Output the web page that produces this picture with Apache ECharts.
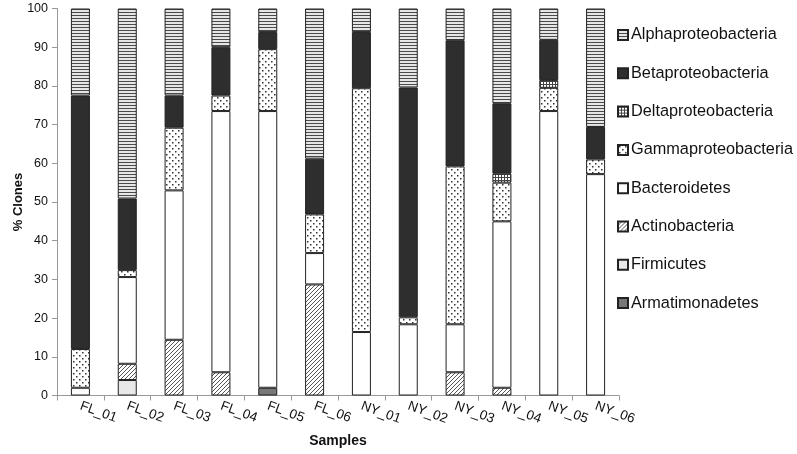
<!DOCTYPE html>
<html>
<head>
<meta charset="utf-8">
<script src="https://cdn.jsdelivr.net/npm/echarts@6/dist/echarts.min.js"></script>
<style>
  html, body { margin: 0; padding: 0; background: #fff; }
  #chart { width: 797px; height: 454px; }
</style>
</head>
<body>
<div id="chart"></div>
<script>
// samples along the x axis
var samples = ['FL_01', 'FL_02', 'FL_03', 'FL_04', 'FL_05', 'FL_06',
               'NY_01', 'NY_02', 'NY_03', 'NY_04', 'NY_05', 'NY_06'];

// % clones per group, stacked bottom -> top
var armatimonadetes = [0, 0, 0, 0, 2, 0, 0, 0, 0, 0, 0, 0];
var firmicutes      = [0, 4, 0, 0, 0, 0, 0, 0, 0, 0, 0, 0];
var actinobacteria  = [0, 4.2, 14.4, 6, 0, 28.7, 0, 0, 6, 2, 0, 0];
var bacteroidetes   = [2, 22.4, 38.6, 67.5, 71.5, 8.1, 16.4, 18.4, 12.4, 43, 73.5, 57.2];
var gammaproteo     = [10, 1.8, 16.2, 4, 16, 10, 63, 1.8, 40.8, 10, 6, 3.8];
var deltaproteo     = [0, 0, 0, 0, 0, 0, 0, 0, 0, 2.3, 2, 0];
var betaproteo      = [65.5, 18.5, 8.3, 12.5, 4.4, 14.4, 14.5, 59.4, 32.6, 18.2, 10.4, 8.4];
var alphaproteo     = [22.5, 49.1, 22.5, 10, 6.1, 38.8, 6.1, 20.4, 8.2, 24.5, 8.1, 30.6];

var yTicks = [0, 10, 20, 30, 40, 50, 60, 70, 80, 90, 100];

// little canvas tiles for the hatch fills
function tile(w, h, draw) {
  var c = document.createElement('canvas');
  c.width = w; c.height = h;
  var g = c.getContext('2d');
  g.fillStyle = '#fff';
  g.fillRect(0, 0, w, h);
  draw(g);
  return { image: c, repeat: 'repeat' };
}

var fillAlpha = tile(1, 3, function (g) {
  g.fillStyle = '#e6e6e6'; g.fillRect(0, 0, 1, 3);
  g.fillStyle = '#4a4a4a'; g.fillRect(0, 0, 1, 1);
});
var fillDelta = tile(3, 3, function (g) {
  g.fillStyle = '#444'; g.fillRect(0, 0, 3, 1); g.fillRect(0, 0, 1, 3);
});
var fillGamma = tile(6, 6, function (g) {
  g.fillStyle = '#333';
  g.fillRect(1, 1, 1.5, 1.5);
  g.fillRect(4, 4, 1.5, 1.5);
});
var fillActino = tile(4, 4, function (g) {
  g.fillStyle = '#555';
  g.fillRect(3, 0, 1, 1); g.fillRect(2, 1, 1, 1);
  g.fillRect(1, 2, 1, 1); g.fillRect(0, 3, 1, 1);
});

var groups = [
  { name: 'Armatimonadetes', data: armatimonadetes, color: '#777777' },
  { name: 'Firmicutes', data: firmicutes, color: '#e8e8e8' },
  { name: 'Actinobacteria', data: actinobacteria, color: fillActino },
  { name: 'Bacteroidetes', data: bacteroidetes, color: '#ffffff' },
  { name: 'Gammaproteobacteria', data: gammaproteo, color: fillGamma },
  { name: 'Deltaproteobacteria', data: deltaproteo, color: fillDelta },
  { name: 'Betaproteobacteria', data: betaproteo, color: '#2e2e2e' },
  { name: 'Alphaproteobacteria', data: alphaproteo, color: fillAlpha }
];

var series = groups.map(function (gr) {
  return {
    name: gr.name,
    type: 'bar',
    stack: 'all',
    barWidth: 19,
    // empty segments are left out so they draw no border line
    data: gr.data.map(function (v) { return v === 0 ? '-' : v; }),
    itemStyle: { color: gr.color, borderColor: '#222', borderWidth: 1 },
    emphasis: { disabled: true }
  };
});

var chart = echarts.init(document.getElementById('chart'), null, { renderer: 'canvas' });
chart.setOption({
  animation: false,
  textStyle: { fontFamily: 'Liberation Sans, Arial, sans-serif' },
  grid: { left: 57, top: 8.5, width: 562, height: 387, outerBoundsMode: 'none' },
  legend: {
    orient: 'vertical',
    left: 617,
    top: 27,
    padding: 0,
    icon: 'rect',
    itemWidth: 10,
    itemHeight: 10,
    itemGap: 22.3,
    data: groups.map(function (g) { return g.name; }).reverse(),
    textStyle: { fontSize: 16.3, color: '#111', padding: [0, 0, 0, -2] }
  },
  xAxis: {
    type: 'category',
    data: samples,
    name: 'Samples',
    nameLocation: 'middle',
    nameGap: 39,
    nameMoveOverlap: false,
    nameTextStyle: { fontSize: 14, fontWeight: 'bold', color: '#111' },
    axisLine: { lineStyle: { color: '#999' } },
    axisTick: { show: true, length: 5, lineStyle: { color: '#999' } },
    axisLabel: { rotate: -20, fontSize: 13.5, color: '#111', margin: 10, interval: 0 }
  },
  yAxis: {
    type: 'value',
    min: 0,
    max: 100,
    interval: 10,
    name: '% Clones',
    nameLocation: 'middle',
    nameGap: 32.5,
    nameMoveOverlap: false,
    nameTextStyle: { fontSize: 13, fontWeight: 'bold', color: '#111' },
    splitLine: { show: false },
    axisLine: { show: true, lineStyle: { color: '#999' } },
    axisTick: { show: true, length: 5, lineStyle: { color: '#999' } },
    axisLabel: {
      fontSize: 12.5, color: '#111', margin: 9,
      formatter: function (v) { return yTicks.indexOf(v) >= 0 ? String(v) : ''; }
    }
  },
  series: series
});
</script>
</body>
</html>
